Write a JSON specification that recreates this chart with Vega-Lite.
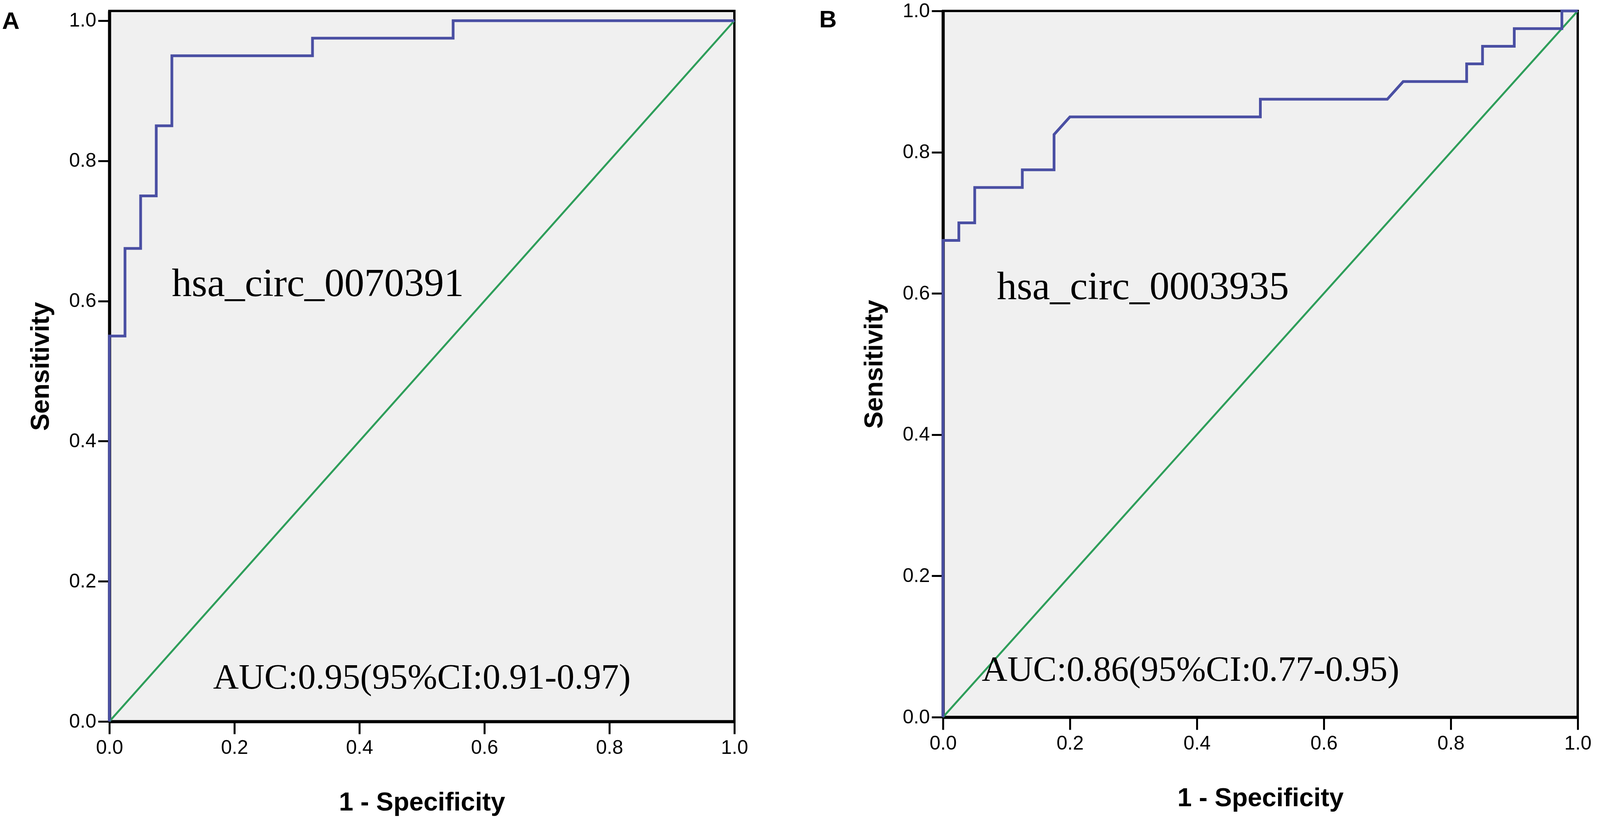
{
  "$schema": "https://vega.github.io/schema/vega-lite/v6.json",
  "background": "white",
  "autosize": "pad",
  "padding": {"left": 2, "top": 0, "right": 0, "bottom": 5},
  "datasets": {
    "rocA": [
      {"i": 0, "fpr": 0, "tpr": 0},
      {"i": 1, "fpr": 0, "tpr": 0.55},
      {"i": 2, "fpr": 0.025, "tpr": 0.55},
      {"i": 3, "fpr": 0.025, "tpr": 0.675},
      {"i": 4, "fpr": 0.05, "tpr": 0.675},
      {"i": 5, "fpr": 0.05, "tpr": 0.75},
      {"i": 6, "fpr": 0.075, "tpr": 0.75},
      {"i": 7, "fpr": 0.075, "tpr": 0.85},
      {"i": 8, "fpr": 0.1, "tpr": 0.85},
      {"i": 9, "fpr": 0.1, "tpr": 0.95},
      {"i": 10, "fpr": 0.325, "tpr": 0.95},
      {"i": 11, "fpr": 0.325, "tpr": 0.975},
      {"i": 12, "fpr": 0.55, "tpr": 0.975},
      {"i": 13, "fpr": 0.55, "tpr": 1},
      {"i": 14, "fpr": 1, "tpr": 1}
    ],
    "rocB": [
      {"i": 0, "fpr": 0, "tpr": 0},
      {"i": 1, "fpr": 0, "tpr": 0.675},
      {"i": 2, "fpr": 0.025, "tpr": 0.675},
      {"i": 3, "fpr": 0.025, "tpr": 0.7},
      {"i": 4, "fpr": 0.05, "tpr": 0.7},
      {"i": 5, "fpr": 0.05, "tpr": 0.75},
      {"i": 6, "fpr": 0.125, "tpr": 0.75},
      {"i": 7, "fpr": 0.125, "tpr": 0.775},
      {"i": 8, "fpr": 0.175, "tpr": 0.775},
      {"i": 9, "fpr": 0.175, "tpr": 0.825},
      {"i": 10, "fpr": 0.2, "tpr": 0.85},
      {"i": 11, "fpr": 0.5, "tpr": 0.85},
      {"i": 12, "fpr": 0.5, "tpr": 0.875},
      {"i": 13, "fpr": 0.7, "tpr": 0.875},
      {"i": 14, "fpr": 0.725, "tpr": 0.9},
      {"i": 15, "fpr": 0.825, "tpr": 0.9},
      {"i": 16, "fpr": 0.825, "tpr": 0.925},
      {"i": 17, "fpr": 0.85, "tpr": 0.925},
      {"i": 18, "fpr": 0.85, "tpr": 0.95},
      {"i": 19, "fpr": 0.9, "tpr": 0.95},
      {"i": 20, "fpr": 0.9, "tpr": 0.975},
      {"i": 21, "fpr": 0.975, "tpr": 0.975},
      {"i": 22, "fpr": 0.975, "tpr": 1},
      {"i": 23, "fpr": 1, "tpr": 1}
    ],
    "diag": [
      {"i": 0, "fpr": 0, "tpr": 0},
      {"i": 1, "fpr": 1, "tpr": 1}
    ],
    "one": [{}]
  },
  "spacing": 176,
  "hconcat": [
    {
      "width": 1600,
      "height": 1819,
      "layer": [
        {
          "data": {"name": "diag"},
          "mark": {"type": "line", "color": "#2e9e5a", "strokeWidth": 5},
          "encoding": {
            "x": {"field": "fpr", "type": "quantitative", "scale": {"domain": [0, 1], "nice": false},
                  "axis": {"title": "1 - Specificity", "values": [0, 0.2, 0.4, 0.6, 0.8, 1]}},
            "y": {"field": "tpr", "type": "quantitative", "scale": {"domain": [0, 1.0139], "nice": false},
                  "axis": {"title": "Sensitivity", "values": [0, 0.2, 0.4, 0.6, 0.8, 1]}},
            "order": {"field": "i"}
          }
        },
        {
          "data": {"name": "rocA"},
          "mark": {"type": "line", "color": "#4a4fa3", "strokeWidth": 7},
          "encoding": {
            "x": {"field": "fpr", "type": "quantitative"},
            "y": {"field": "tpr", "type": "quantitative"},
            "order": {"field": "i"}
          }
        },
        {
          "data": {"name": "one"},
          "mark": {"type": "text", "font": "Liberation Serif", "fontSize": 102, "align": "center", "baseline": "alphabetic", "color": "black"},
          "encoding": {"x": {"datum": 0.3335}, "y": {"datum": 0.607}, "text": {"value": "hsa_circ_0070391"}}
        },
        {
          "data": {"name": "one"},
          "mark": {"type": "text", "font": "Liberation Serif", "fontSize": 91, "align": "center", "baseline": "alphabetic", "color": "black"},
          "encoding": {"x": {"datum": 0.5}, "y": {"datum": 0.0468}, "text": {"value": "AUC:0.95(95%CI:0.91-0.97)"}}
        },
        {
          "data": {"name": "one"},
          "mark": {"type": "text", "font": "Liberation Sans", "fontSize": 62, "fontWeight": "bold", "align": "left", "baseline": "alphabetic", "color": "black"},
          "encoding": {"x": {"datum": -0.1717}, "y": {"datum": 0.988}, "text": {"value": "A"}}
        }
      ]
    },
    {
      "width": 1625,
      "height": 1808,
      "layer": [
        {
          "data": {"name": "diag"},
          "mark": {"type": "line", "color": "#2e9e5a", "strokeWidth": 5},
          "encoding": {
            "x": {"field": "fpr", "type": "quantitative", "scale": {"domain": [0, 1], "nice": false},
                  "axis": {"title": "1 - Specificity", "values": [0, 0.2, 0.4, 0.6, 0.8, 1]}},
            "y": {"field": "tpr", "type": "quantitative", "scale": {"domain": [0, 1], "nice": false},
                  "axis": {"title": "Sensitivity", "values": [0, 0.2, 0.4, 0.6, 0.8, 1]}},
            "order": {"field": "i"}
          }
        },
        {
          "data": {"name": "rocB"},
          "mark": {"type": "line", "color": "#4a4fa3", "strokeWidth": 7},
          "encoding": {
            "x": {"field": "fpr", "type": "quantitative"},
            "y": {"field": "tpr", "type": "quantitative"},
            "order": {"field": "i"}
          }
        },
        {
          "data": {"name": "one"},
          "mark": {"type": "text", "font": "Liberation Serif", "fontSize": 102, "align": "center", "baseline": "alphabetic", "color": "black"},
          "encoding": {"x": {"datum": 0.315}, "y": {"datum": 0.592}, "text": {"value": "hsa_circ_0003935"}}
        },
        {
          "data": {"name": "one"},
          "mark": {"type": "text", "font": "Liberation Serif", "fontSize": 91, "align": "center", "baseline": "alphabetic", "color": "black"},
          "encoding": {"x": {"datum": 0.39}, "y": {"datum": 0.0514}, "text": {"value": "AUC:0.86(95%CI:0.77-0.95)"}}
        },
        {
          "data": {"name": "one"},
          "mark": {"type": "text", "font": "Liberation Sans", "fontSize": 62, "fontWeight": "bold", "align": "left", "baseline": "alphabetic", "color": "black"},
          "encoding": {"x": {"datum": -0.195}, "y": {"datum": 0.977}, "text": {"value": "B"}}
        }
      ]
    }
  ],
  "config": {
    "view": {"fill": "#f0f0f0", "stroke": "black", "strokeWidth": 6},
    "axis": {
      "grid": false,
      "format": ".1f",
      "zindex": 1,
      "domainColor": "black",
      "domainWidth": 8,
      "tickColor": "black",
      "tickWidth": 5,
      "labelFont": "Liberation Sans",
      "labelFontSize": 50,
      "labelColor": "black",
      "labelFlush": false,
      "labelOverlap": false,
      "titleFont": "Liberation Sans",
      "titleFontSize": 66,
      "titleFontWeight": "bold",
      "titleColor": "black"
    },
    "axisX": {"tickSize": 32, "labelPadding": 10, "titlePadding": 83},
    "axisY": {"tickSize": 29, "labelPadding": 5, "titlePadding": 38}
  }
}
